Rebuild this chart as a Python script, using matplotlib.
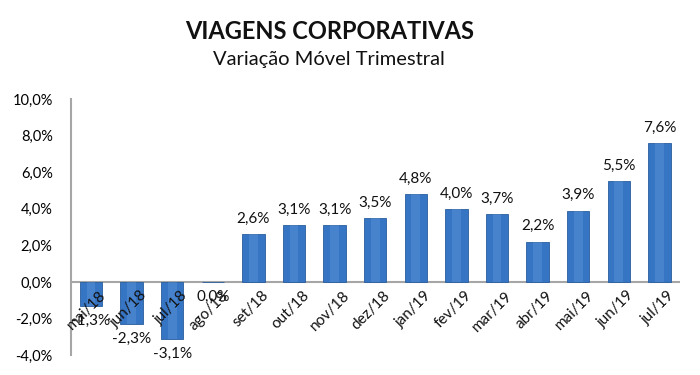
import numpy as np
import matplotlib
matplotlib.use("Agg")
import matplotlib.pyplot as plt
from matplotlib.ticker import FuncFormatter

plt.rcParams['font.family'] = ['Lato', 'DejaVu Sans']

# data
meses = ['mai/18', 'jun/18', 'jul/18', 'ago/18', 'set/18', 'out/18', 'nov/18',
         'dez/18', 'jan/19', 'fev/19', 'mar/19', 'abr/19', 'mai/19', 'jun/19', 'jul/19']
variacao = [-1.3, -2.3, -3.1, 0.0, 2.6, 3.1, 3.1, 3.5, 4.8, 4.0, 3.7, 2.2, 3.9, 5.5, 7.6]
y_ticks = [-4, -2, 0, 2, 4, 6, 8, 10]


def pct(v):
    return f"{v:.1f}%".replace('.', ',')


fig = plt.figure(figsize=(7, 3.75), dpi=100)
ax = fig.add_axes([0.101, 0.053, 0.87, 0.683])

x = np.arange(len(meses))
bars = ax.bar(x, variacao, width=0.55, color='#3674c4', edgecolor='#2a5e9e',
              linewidth=0.6, zorder=2)

# light highlight strip on each bar to hint at the Excel bevel
for b in bars:
    h = b.get_height()
    if h == 0:
        continue
    ax.bar(b.get_x() + b.get_width() * 0.5, h, width=b.get_width() * 0.4,
           color='#6fa3e2', alpha=0.3, linewidth=0, zorder=3)

# data labels
for xi, v in zip(x, variacao):
    if v > 0:
        ax.annotate(pct(v), (xi, v), xytext=(0, 6), textcoords='offset points',
                    ha='center', va='bottom', fontsize=11, color='#111111')
    else:
        ax.annotate(pct(v), (xi, v), xytext=(0, -6), textcoords='offset points',
                    ha='center', va='top', fontsize=11, color='#111111')

# category labels next to the zero line, rotated like Excel
for xi, m in zip(x, meses):
    ax.text(xi + 0.2, -0.35, m, rotation=45, ha='right', va='top',
            rotation_mode='anchor', fontsize=11, color='#111111', zorder=4)

ax.set_xlim(-0.5, len(meses) - 0.5)
ax.set_ylim(-4, 10)
ax.set_yticks(y_ticks)
ax.yaxis.set_major_formatter(FuncFormatter(lambda v, p: pct(v)))
ax.tick_params(axis='y', length=0, pad=13, labelsize=10.5)
ax.set_xticks([])

for s in ['top', 'right', 'bottom']:
    ax.spines[s].set_visible(False)
ax.spines['left'].set_color('#a6a6a6')
ax.spines['left'].set_linewidth(1.5)
ax.axhline(0, color='#a6a6a6', linewidth=1.5, zorder=1)

fig.text(0.471, 0.916, 'VIAGENS CORPORATIVAS', ha='center', va='center',
         fontsize=17, fontweight='bold', color='#111111')
fig.text(0.47, 0.84, 'Variação Móvel Trimestral', ha='center', va='center',
         fontsize=14.5, color='#111111')

fig.savefig('out.png', dpi=100)
